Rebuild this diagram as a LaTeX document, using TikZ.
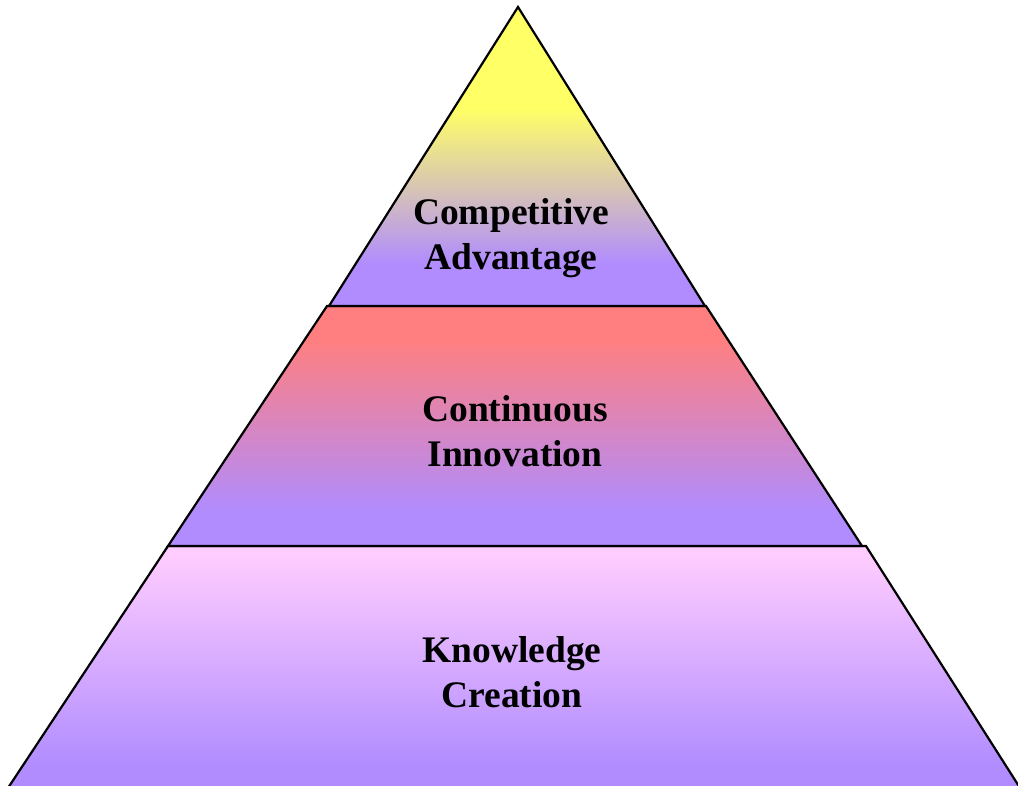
\documentclass[tikz,border=0pt]{standalone}
\usepackage{fontspec}
\setmainfont{Liberation Serif}
\definecolor{yel}{HTML}{FFFF66}
\definecolor{purp}{HTML}{B08CFF}
\definecolor{redc}{HTML}{FF7F80}
\definecolor{pinkc}{HTML}{FFCCFF}
\pgfdeclareverticalshading{topshade}{100bp}{color(0bp)=(purp); color(32bp)=(purp); color(58bp)=(yel); color(100bp)=(yel)}
\pgfdeclareverticalshading{midshade}{100bp}{color(0bp)=(purp); color(32bp)=(purp); color(68bp)=(redc); color(100bp)=(redc)}
\pgfdeclareverticalshading{botshade}{100bp}{color(0bp)=(purp); color(30bp)=(purp); color(73bp)=(pinkc); color(100bp)=(pinkc)}
\begin{document}
\begin{tikzpicture}[x=1pt,y=-1pt,
  layer/.style={draw=black, line width=2.2pt, line join=miter},
  lbl/.style={font=\bfseries\fontsize{37.5}{45}\selectfont, align=center, inner sep=0pt}]
\useasboundingbox (0,0) rectangle (1018,785);
% bottom layer
\path[layer, shading=botshade] (168,546) -- (866,546) -- (1022,791) -- (6,791) -- cycle;
% middle layer
\path[layer, shading=midshade] (327,306) -- (706,306) -- (862,546) -- (168,546) -- cycle;
% top triangle
\path[layer, shading=topshade] (518,7) -- (705,306) -- (329,306) -- cycle;
\node[lbl] (ca) at (511,238) {Competitive\\Advantage};
\node[lbl] (ci) at (515,431) {Continuous\\Innovation};
\node[lbl] (kc) at (512,672) {Knowledge\\Creation};
\end{tikzpicture}
\end{document}
